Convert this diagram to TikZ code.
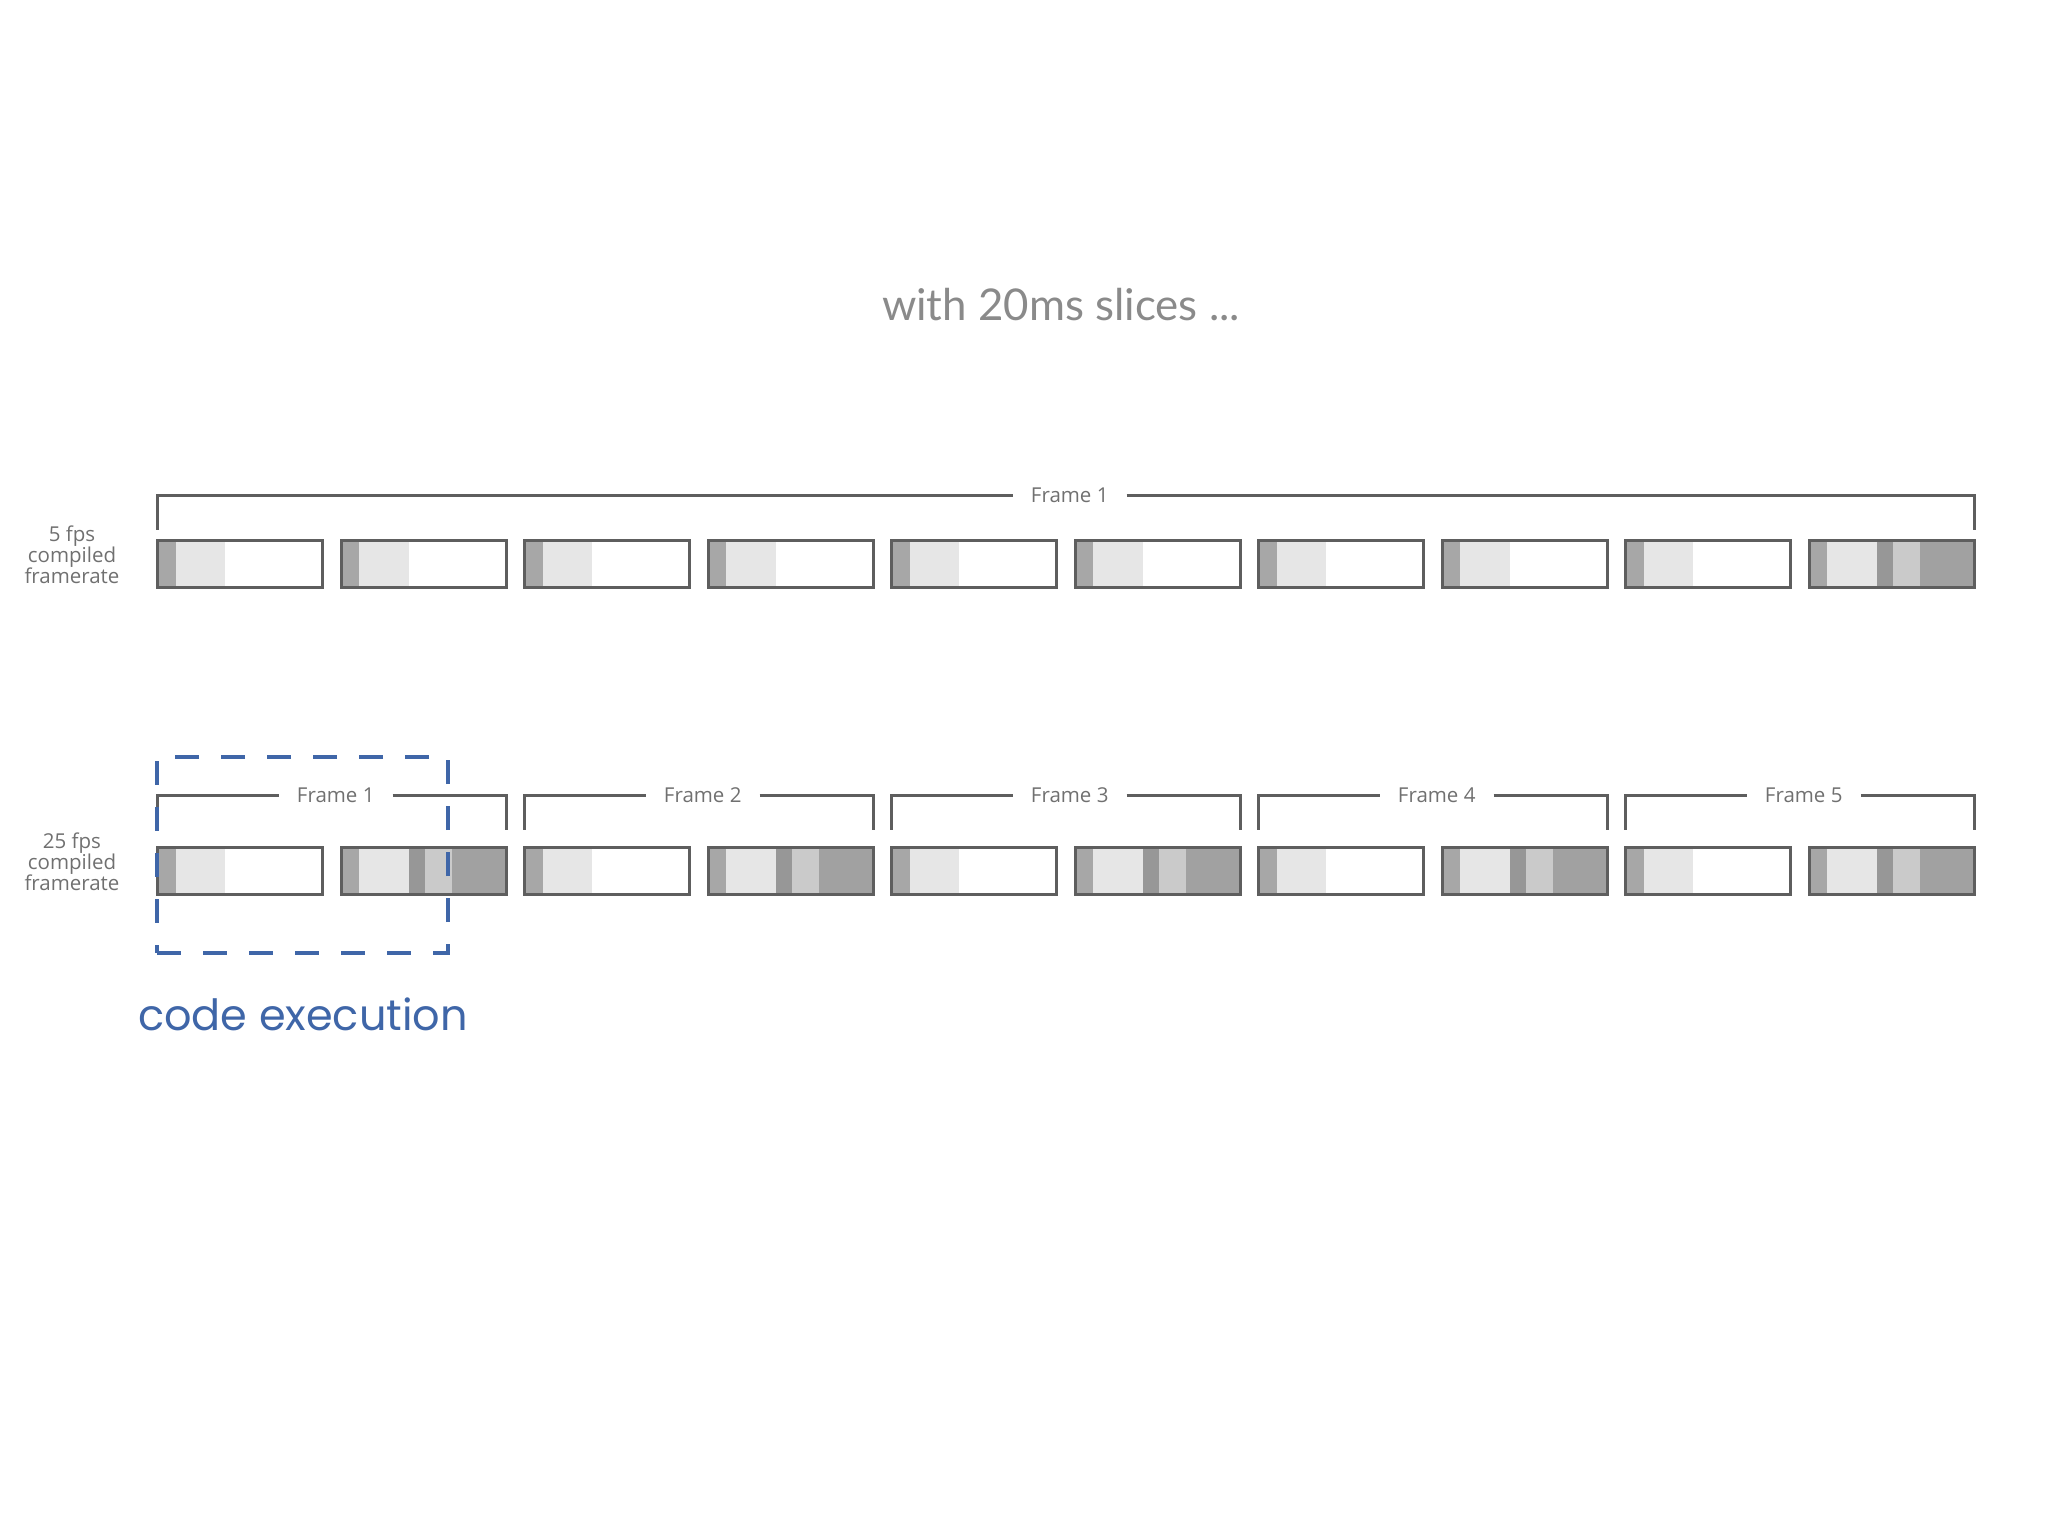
\documentclass[tikz,border=0pt]{standalone}
\usepackage{fontspec}
\setmainfont{Open Sans}
\newfontfamily\titlefont{Lato}
\newfontfamily\codefont{Poppins}
\usetikzlibrary{calc}
\definecolor{edge}{HTML}{5E5E5E}
\definecolor{segdark}{HTML}{A7A7A7}
\definecolor{seglight}{HTML}{E6E6E6}
\definecolor{segdarker}{HTML}{979797}
\definecolor{segmid}{HTML}{CACACA}
\definecolor{segend}{HTML}{A1A1A1}
\definecolor{codeblue}{HTML}{3F66A8}
\definecolor{titlegray}{HTML}{8A8A8A}
\definecolor{lblgray}{HTML}{707070}
\tikzset{
  slot/.style={draw=edge, line width=3pt, minimum width=165pt, minimum height=47pt,
    inner sep=0pt, outer sep=0pt, fill=white},
  slotA/.style={slot, path picture={
    \fill[segdark] (path picture bounding box.south west) rectangle ([xshift=18pt]path picture bounding box.north west);
    \fill[seglight] ([xshift=18pt]path picture bounding box.south west) rectangle ([xshift=67.5pt]path picture bounding box.north west);
  }},
  slotB/.style={slot, path picture={
    \fill[segdark] (path picture bounding box.south west) rectangle ([xshift=18pt]path picture bounding box.north west);
    \fill[seglight] ([xshift=18pt]path picture bounding box.south west) rectangle ([xshift=67.5pt]path picture bounding box.north west);
    \fill[segdarker] ([xshift=67.5pt]path picture bounding box.south west) rectangle ([xshift=84pt]path picture bounding box.north west);
    \fill[segmid] ([xshift=84pt]path picture bounding box.south west) rectangle ([xshift=110.5pt]path picture bounding box.north west);
    \fill[segend] ([xshift=110.5pt]path picture bounding box.south west) rectangle (path picture bounding box.north east);
  }},
  brk/.style={draw=edge, line width=3pt},
  framelbl/.style={text=lblgray, font=\fontsize{20.5}{24}\selectfont, inner xsep=18pt, inner ysep=0pt},
  sidelbl/.style={text=lblgray, font=\fontsize{20.5}{20.5}\selectfont, align=center, inner sep=0pt},
  codebox/.style={draw=codeblue, line width=3.5pt, dash pattern=on 24pt off 22pt,
    minimum width=291pt, minimum height=196pt, inner sep=0pt},
}
\begin{document}
\begin{tikzpicture}[x=1pt, y=-1pt]
\useasboundingbox (0,0) rectangle (2048,1536);
% title
\node[text=titlegray, font=\titlefont\fontsize{43.8}{50}\selectfont] (title) at (1061,305) {with 20ms slices ...};
% row 1 (5 fps)
\foreach \i in {0,...,8}
  \node[slotA] (a\i) at ({240+183.5*\i},564) {};
\node[slotB] (a9) at ({240+183.5*9},564) {};
\node[framelbl] (f0) at ($(a0.north west)!0.5!(a9.north east)+(4,-45.5)$) {Frame 1};
\draw[brk] (f0.west) -- (f0.west -| a0.north west) -- ++(0,35);
\draw[brk] (f0.east) -- (f0.east -| a9.north east) -- ++(0,35);
\node[sidelbl] (l1) at (72,555) {5 fps\\compiled\\framerate};
% row 2 (25 fps)
\foreach \i in {0,2,4,6,8}
  \node[slotA] (b\i) at ({240+183.5*\i},871) {};
\foreach \i in {1,3,5,7,9}
  \node[slotB] (b\i) at ({240+183.5*\i},871) {};
\foreach \k [evaluate=\k as \l using int(2*\k), evaluate=\k as \r using int(2*\k+1), evaluate=\k as \n using int(\k+1)] in {0,...,4} {
  \node[framelbl] (g\n) at ($(b\l.north west)!0.5!(b\r.north east)+(4,-52.5)$) {Frame \n};
  \draw[brk] (g\n.west) -- (g\n.west -| b\l.north west) -- ++(0,35);
  \draw[brk] (g\n.east) -- (g\n.east -| b\r.north east) -- ++(0,35);
}
\node[sidelbl] (l2) at (72,862) {25 fps\\compiled\\framerate};
% code execution highlight
\node[codebox] (cx) at (302.5,855) {};
\node[text=codeblue, font=\codefont\fontsize{43}{50}\selectfont, anchor=center] (ce) at (303,1014) {code execution};
\end{tikzpicture}
\end{document}
